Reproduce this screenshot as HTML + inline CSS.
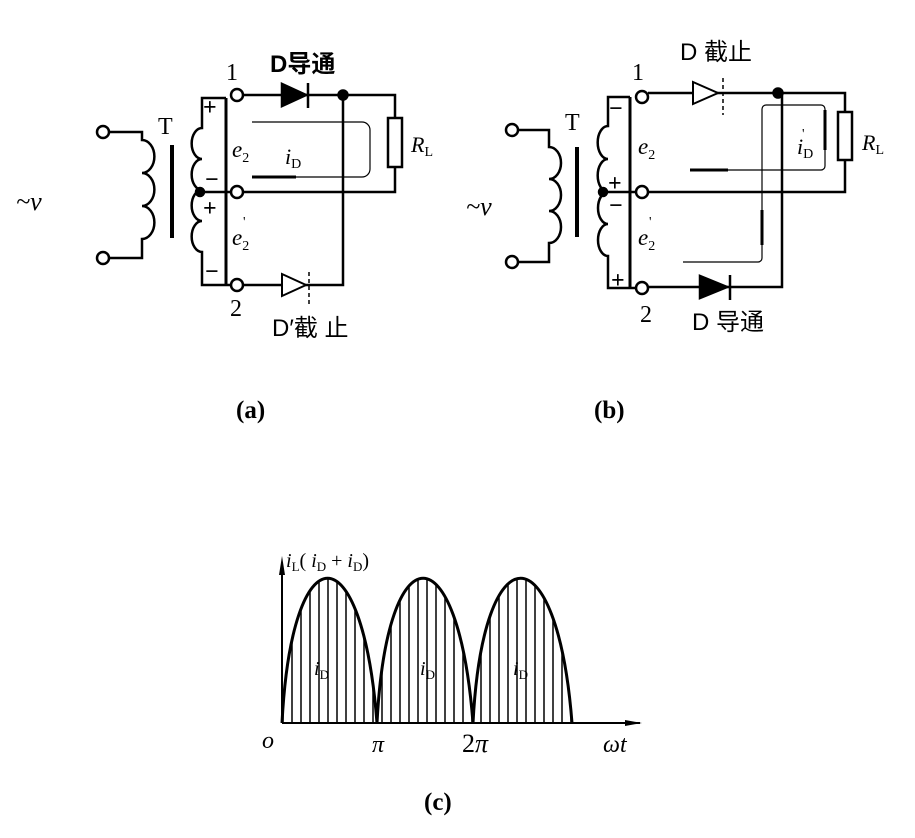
<!DOCTYPE html>
<html><head><meta charset="utf-8"><style>
html,body{margin:0;padding:0;background:#fff}
svg{display:block}
text{font-family:"Liberation Serif","Noto Serif CJK SC",serif;fill:#000}
.cj{font-family:"Liberation Sans","Noto Sans CJK SC",sans-serif}
</style></head><body>
<svg width="915" height="838" viewBox="0 0 915 838" xmlns="http://www.w3.org/2000/svg">
<defs>
<clipPath id="arch"><path d="M282 723 C 292 530, 362 530, 377 723 C 387 530, 458 530, 473 723 C 483 530, 557 530, 572 723 Z"/></clipPath>
<pattern id="hat" width="9" height="10" patternUnits="userSpaceOnUse"><line x1="4" y1="0" x2="4" y2="10" stroke="#000" stroke-width="1.5"/></pattern>
</defs>
<g fill="none" stroke="#000" stroke-width="2.5">
<!-- ===== (a) ===== -->
<circle cx="103" cy="132" r="6" fill="#fff"/>
<circle cx="103" cy="258" r="6" fill="#fff"/>
<path d="M109 132 H142 V140 a9 12 0 0 1 0 33 a9 12 0 0 1 0 33 a9 12 0 0 1 0 33 V258 H109"/>
<line x1="172" y1="145" x2="172" y2="238" stroke-width="4"/>
<path d="M226 98 H202 V128 a10 15 0 0 0 0 31 a10 15 0 0 0 0 31 a10 15 0 0 0 0 31 a10 15 0 0 0 0 31 V285 H231"/>
<line x1="226" y1="98" x2="226" y2="285" stroke-width="3"/>
<circle cx="200" cy="192" r="4" fill="#000"/>
<line x1="200" y1="192" x2="231" y2="192"/>
<circle cx="237" cy="95" r="6" fill="#fff"/>
<circle cx="237" cy="192" r="6" fill="#fff"/>
<circle cx="237" cy="285" r="6" fill="#fff"/>
<path d="M243 95 H395 V118"/>
<rect x="388" y="118" width="14" height="49"/>
<path d="M395 167 V192 H243"/>
<path d="M243 285 H343 V95"/>
<circle cx="343" cy="95" r="4.5" fill="#000"/>
<polygon points="282,84 282,106 306,95" fill="#000"/>
<line x1="308" y1="83" x2="308" y2="108"/>
<polygon points="282,274 282,296 306,285" fill="#fff" stroke-width="2"/>
<line x1="309" y1="272" x2="309" y2="305" stroke-width="1.5" stroke-dasharray="4,3"/>
<path d="M252 122 H362 a8 8 0 0 1 8 8 V169 a8 8 0 0 1 -8 8 H252" stroke-width="1.2"/>
<line x1="252" y1="177" x2="296" y2="177" stroke-width="3"/>
<!-- ===== (b) ===== -->
<circle cx="512" cy="130" r="6" fill="#fff"/>
<circle cx="512" cy="262" r="6" fill="#fff"/>
<path d="M518 130 H549 V147 a9 12 0 0 1 0 32 a9 12 0 0 1 0 32 a9 12 0 0 1 0 32 V262 H518"/>
<line x1="577" y1="147" x2="577" y2="237" stroke-width="4"/>
<path d="M630 97 H608 V126 a10 16 0 0 0 0 33 a10 16 0 0 0 0 33 a10 16 0 0 0 0 32 a10 16 0 0 0 0 32 V288 H636"/>
<line x1="630" y1="97" x2="630" y2="288" stroke-width="3"/>
<circle cx="603" cy="192" r="4" fill="#000"/>
<line x1="603" y1="192" x2="636" y2="192"/>
<circle cx="642" cy="97" r="6" fill="#fff"/>
<circle cx="642" cy="192" r="6" fill="#fff"/>
<circle cx="642" cy="288" r="6" fill="#fff"/>
<path d="M648 93 H845 V112"/>
<rect x="838" y="112" width="14" height="48"/>
<path d="M845 160 V192 H648"/>
<path d="M648 287 H782 V93"/>
<circle cx="778" cy="93" r="4.5" fill="#000"/>
<polygon points="693,82 693,104 718,93" fill="#fff" stroke-width="2"/>
<line x1="723" y1="78" x2="723" y2="115" stroke-width="1.5" stroke-dasharray="4,3"/>
<polygon points="700,276 700,298 727,287" fill="#000"/>
<line x1="730" y1="275" x2="730" y2="300"/>
<path d="M683 262 H758 a4 4 0 0 0 4 -4 V109 a4 4 0 0 1 4 -4 H821 a4 4 0 0 1 4 4 V166 a4 4 0 0 1 -4 4 H690" stroke-width="1.2"/>
<line x1="690" y1="170" x2="728" y2="170" stroke-width="3"/>
<line x1="762" y1="210" x2="762" y2="245" stroke-width="3"/>
<line x1="825" y1="110" x2="825" y2="150" stroke-width="3"/>
<!-- ===== (c) ===== -->
<rect x="282" y="560" width="292" height="163" fill="url(#hat)" stroke="none" clip-path="url(#arch)"/>
<line x1="282" y1="723" x2="640" y2="723" stroke-width="2"/>
<line x1="282" y1="723" x2="282" y2="562" stroke-width="2"/>
<polygon points="282,556 279,575 285,575" fill="#000" stroke="none"/>
<polygon points="642,723 625,720 625,726" fill="#000" stroke="none"/>
<path d="M282 723 C 292 530, 362 530, 377 723 C 387 530, 458 530, 473 723 C 483 530, 557 530, 572 723" stroke-width="3"/>
</g>
<!-- labels (a) -->
<text x="226" y="80" font-size="24">1</text>
<text x="270" y="72" font-size="24" font-weight="bold" class="cj">D导通</text>
<text x="158" y="134" font-size="24">T</text>
<text x="16" y="210" font-size="26" font-style="italic">~v</text>
<text x="232" y="157" font-size="23" font-style="italic">e<tspan font-size="14" dy="5" font-style="normal">2</tspan></text>
<text x="285" y="164" font-size="22" font-style="italic">i<tspan font-size="14" dy="4" font-style="normal">D</tspan></text>
<text x="411" y="152" font-size="22" font-style="italic">R<tspan font-size="14" dy="4" font-style="normal">L</tspan></text>
<text x="232" y="245" font-size="23" font-style="italic">e<tspan font-size="14" dy="5" font-style="normal">2</tspan></text>
<text x="243" y="226" font-size="14">'</text>
<text x="230" y="316" font-size="24">2</text>
<text x="272" y="336" font-size="24" class="cj">D′截 止</text>
<text x="203" y="115" font-size="24" font-weight="bold">+</text>
<text x="205" y="187" font-size="24" font-weight="bold">−</text>
<text x="203" y="216" font-size="24" font-weight="bold">+</text>
<text x="205" y="279" font-size="24" font-weight="bold">−</text>
<text x="236" y="418" font-size="25" font-weight="bold">(a)</text>
<!-- labels (b) -->
<text x="632" y="80" font-size="24">1</text>
<text x="680" y="60" font-size="24" class="cj">D 截止</text>
<text x="565" y="130" font-size="24">T</text>
<text x="466" y="215" font-size="26" font-style="italic">~v</text>
<text x="638" y="154" font-size="23" font-style="italic">e<tspan font-size="14" dy="5" font-style="normal">2</tspan></text>
<text x="797" y="154" font-size="22" font-style="italic">i<tspan font-size="14" dy="4" font-style="normal">D</tspan></text>
<text x="802" y="138" font-size="14">'</text>
<text x="862" y="150" font-size="22" font-style="italic">R<tspan font-size="14" dy="4" font-style="normal">L</tspan></text>
<text x="638" y="245" font-size="23" font-style="italic">e<tspan font-size="14" dy="5" font-style="normal">2</tspan></text>
<text x="649" y="226" font-size="14">'</text>
<text x="640" y="322" font-size="24">2</text>
<text x="692" y="330" font-size="24" class="cj">D 导通</text>
<text x="609" y="116" font-size="24" font-weight="bold">−</text>
<text x="608" y="191" font-size="24" font-weight="bold">+</text>
<text x="609" y="213" font-size="24" font-weight="bold">−</text>
<text x="611" y="288" font-size="24" font-weight="bold">+</text>
<text x="594" y="418" font-size="25" font-weight="bold">(b)</text>
<!-- labels (c) -->
<text x="286" y="567" font-size="20" font-style="italic">i<tspan font-size="13" dy="4" font-style="normal">L</tspan><tspan dy="-4" font-style="normal">(</tspan> i<tspan font-size="13" dy="4" font-style="normal">D</tspan><tspan dy="-4" font-style="normal"> + </tspan>i<tspan font-size="13" dy="4" font-style="normal">D</tspan><tspan dy="-4" font-style="normal">)</tspan></text>
<text x="314" y="675" font-size="20" font-style="italic">i<tspan font-size="13" dy="4" font-style="normal">D</tspan></text>
<text x="420" y="675" font-size="20" font-style="italic">i<tspan font-size="13" dy="4" font-style="normal">D</tspan></text>
<text x="426" y="658" font-size="12">'</text>
<text x="513" y="675" font-size="20" font-style="italic">i<tspan font-size="13" dy="4" font-style="normal">D</tspan></text>
<text x="262" y="748" font-size="24" font-style="italic">o</text>
<text x="372" y="752" font-size="24" font-style="italic">π</text>
<text x="462" y="752" font-size="26">2<tspan font-style="italic">π</tspan></text>
<text x="603" y="752" font-size="24" font-style="italic">ωt</text>
<text x="424" y="810" font-size="25" font-weight="bold">(c)</text>
</svg>
</body></html>
